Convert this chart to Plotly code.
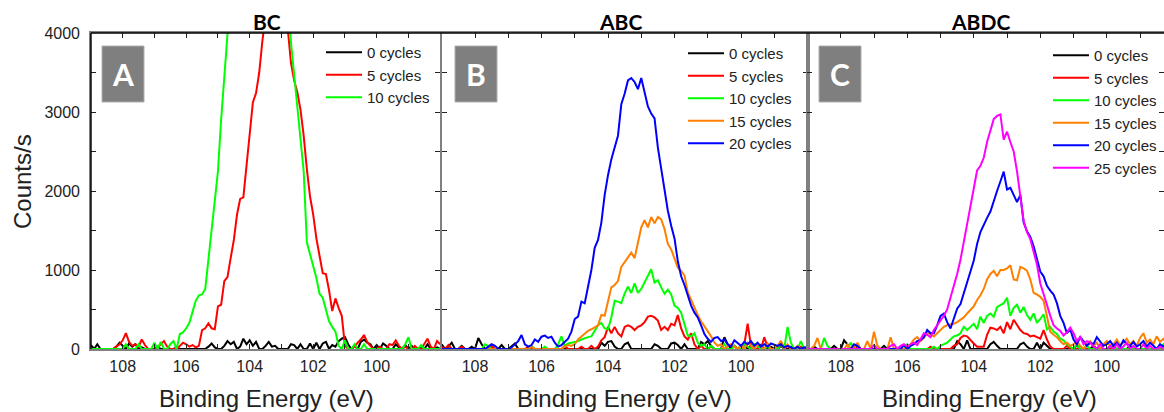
import numpy as np
import plotly.graph_objects as go

W, H = 1164, 412

# Binding-energy sampling shared by every spectrum (eV, 0.1 eV steps, high -> low)
energy = np.round(np.linspace(109.0, 98.0, 111), 1)

# ---------------- BC ----------------
bc_0 = [50, 0, 60, 0, 0, 0, 0, 0, 30, 80,
        40, 0, 70, 30, 60, 0, 20, 0, 0, 0,
        0, 30, 0, 0, 0, 0, 0, 20, 0, 0,
        0, 0, 0, 0, 0, 0, 0, 30, 70, 20,
        0, 0, 40, 100, 60, 90, 0, 30, 130, 60,
        110, 40, 90, 0, 0, 40, 90, 30, 40, 0,
        0, 0, 0, 60, 50, 0, 60, 0, 0, 70,
        0, 80, 0, 70, 90, 0, 50, 30, 100, 130,
        150, 60, 0, 40, 0, 90, 120, 80, 60, 0,
        50, 0, 70, 40, 0, 0, 60, 20, 0, 50,
        0, 40, 0, 0, 30, 0, 60, 0, 0, 20,
        0]
bc_5 = [0, 0, 0, 0, 0, 0, 0, 0, 30, 60,
        110, 200, 90, 40, 60, 30, 120, 50, 0, 0,
        0, 20, 60, 100, 30, 0, 0, 0, 40, 80,
        60, 30, 50, 20, 40, 240, 262, 325, 262, 250,
        540, 560, 860, 910, 1150, 1380, 1700, 1900, 1920, 2300,
        2720, 3120, 3240, 3500, 3900, 4300, 4700, 5000, 5200, 5200,
        4900, 4500, 4050, 3620, 3400, 3250, 3030, 2700, 2280, 1930,
        1700, 1400, 1180, 960, 950, 740, 480, 640, 520, 420,
        40, 0, 0, 30, 80, 120, 177, 90, 40, 0,
        0, 30, 0, 0, 60, 50, 110, 40, 0, 30,
        0, 0, 40, 0, 0, 60, 130, 30, 0, 100,
        60]
bc_10 = [0, 0, 0, 0, 0, 0, 0, 0, 0, 0,
         0, 60, 0, 0, 0, 60, 0, 0, 0, 0,
         80, 0, 90, 0, 0, 60, 100, 0, 190, 210,
         262, 330, 470, 610, 680, 690, 760, 1150, 1550, 1850,
         2250, 2900, 3600, 4100, 4700, 5200, 5600, 6000, 6300, 6500,
         6700, 6800, 6900, 7000, 7000, 6900, 6800, 6700, 6500, 6300,
         6000, 5200, 4400, 3880, 3450, 3080, 2650, 2250, 1350, 1180,
         1050, 900, 700, 650, 480, 350, 280, 220, 40, 0,
         110, 0, 0, 60, 0, 0, 60, 0, 0, 0,
         0, 0, 0, 0, 0, 0, 0, 0, 0, 60,
         150, 0, 0, 0, 50, 0, 0, 0, 0, 0,
         0]

# ---------------- ABC ----------------
abc_0 = [60, 0, 30, 80, 0, 0, 40, 0, 0, 30,
         0, 140, 60, 0, 0, 30, 0, 0, 50, 0,
         0, 40, 70, 0, 0, 0, 0, 30, 0, 0,
         0, 0, 0, 0, 0, 0, 0, 0, 0, 0,
         0, 0, 0, 0, 0, 0, 0, 0, 80, 40,
         90, 100, 30, 0, 0, 60, 80, 0, 0, 0,
         0, 0, 0, 0, 60, 40, 0, 0, 0, 70,
         80, 50, 0, 60, 0, 0, 0, 0, 90, 60,
         100, 40, 0, 0, 0, 150, 60, 0, 40, 0,
         0, 60, 0, 40, 0, 0, 50, 0, 0, 30,
         0, 0, 40, 0, 0, 30, 0, 0, 20, 0,
         0]
abc_5 = [20, 0, 50, 0, 0, 0, 30, 0, 0, 0,
         0, 0, 0, 0, 0, 40, 0, 0, 0, 0,
         0, 0, 0, 0, 0, 0, 30, 0, 0, 0,
         0, 0, 0, 0, 0, 0, 0, 40, 0, 0,
         0, 0, 30, 0, 0, 40, 0, 30, 110, 150,
         280, 200, 280, 200, 160, 280, 300, 280, 240, 280,
         300, 340, 410, 420, 400, 360, 240, 280, 240, 320,
         300, 430, 260, 160, 120, 200, 60, 0, 40, 0,
         0, 30, 0, 0, 0, 0, 0, 0, 40, 0,
         0, 60, 320, 40, 0, 0, 0, 150, 20, 0,
         0, 0, 100, 0, 40, 0, 0, 0, 30, 0,
         0]
abc_10 = [0, 0, 0, 0, 0, 0, 0, 0, 0, 0,
          0, 0, 0, 60, 40, 0, 0, 0, 0, 0,
          0, 0, 0, 0, 0, 0, 0, 40, 0, 0,
          0, 30, 0, 0, 0, 60, 160, 40, 70, 80,
          90, 100, 120, 140, 150, 160, 230, 300, 330, 260,
          250, 400, 610, 600, 580, 700, 790, 710, 830, 710,
          760, 840, 910, 1010, 840, 870, 780, 700, 750, 690,
          550, 520, 460, 300, 170, 160, 200, 80, 40, 60,
          0, 40, 0, 0, 0, 60, 0, 0, 40, 0,
          0, 60, 30, 0, 60, 40, 0, 0, 30, 0,
          0, 0, 60, 0, 280, 80, 0, 0, 100, 0,
          40]
abc_15 = [0, 0, 0, 0, 0, 0, 0, 0, 0, 0,
          0, 0, 0, 0, 0, 0, 0, 0, 0, 0,
          0, 0, 0, 0, 0, 0, 0, 30, 0, 0,
          0, 0, 0, 0, 0, 0, 0, 30, 50, 40,
          60, 120, 160, 190, 230, 250, 270, 300, 430, 420,
          600, 780, 810, 860, 1040, 1100, 1150, 1220, 1150, 1370,
          1540, 1630, 1540, 1670, 1590, 1670, 1640, 1520, 1330, 1260,
          1150, 1030, 990, 930, 720, 620, 520, 430, 350, 290,
          230, 160, 80, 40, 60, 0, 40, 60, 30, 0,
          50, 0, 80, 40, 0, 60, 30, 0, 70, 0,
          0, 40, 100, 0, 60, 0, 0, 40, 0, 0,
          0]
abc_20 = [0, 0, 0, 0, 0, 0, 0, 0, 0, 0,
          0, 0, 0, 0, 30, 60, 40, 0, 0, 0,
          0, 20, 60, 100, 177, 60, 30, 50, 120, 90,
          156, 170, 140, 156, 80, 30, 50, 90, 130, 220,
          380, 410, 600, 580, 780, 1000, 1280, 1380, 1600, 1950,
          2200, 2400, 2550, 2700, 3100, 3230, 3400, 3430, 3380, 3290,
          3430, 3250, 3070, 2980, 2920, 2550, 2300, 2030, 1750, 1560,
          1400, 1110, 920, 810, 680, 550, 460, 400, 300, 190,
          130, 90, 140, 150, 100, 120, 60, 30, 110, 80,
          40, 90, 60, 100, 40, 80, 30, 60, 30, 70,
          50, 40, 60, 20, 40, 20, 0, 30, 0, 20,
          10]

# ---------------- ABDC ----------------
abdc_0 = [0, 0, 30, 0, 0, 0, 0, 0, 40, 0,
          0, 110, 60, 0, 0, 40, 0, 0, 0, 0,
          0, 0, 0, 40, 0, 0, 0, 0, 0, 0,
          0, 0, 0, 0, 0, 0, 0, 0, 0, 0,
          0, 0, 0, 0, 0, 100, 60, 0, 110, 0,
          0, 0, 0, 0, 0, 60, 90, 40, 0, 0,
          0, 0, 0, 0, 60, 80, 30, 0, 0, 80,
          0, 80, 40, 0, 0, 0, 0, 0, 0, 0,
          0, 50, 0, 0, 0, 0, 40, 0, 0, 0,
          0, 0, 30, 0, 0, 0, 0, 40, 0, 0,
          0, 0, 0, 0, 0, 0, 0, 0, 0, 0,
          0]
abdc_5 = [0, 0, 0, 0, 0, 0, 0, 0, 0, 0,
          0, 0, 0, 0, 30, 0, 0, 0, 0, 0,
          0, 0, 0, 0, 0, 0, 0, 0, 0, 0,
          0, 0, 0, 0, 0, 0, 0, 30, 0, 0,
          0, 0, 0, 0, 40, 60, 140, 170, 160, 110,
          70, 30, 30, 30, 180, 270, 260, 240, 280, 200,
          340, 250, 370, 300, 240, 200, 190, 160, 170, 150,
          130, 240, 120, 30, 0, 0, 0, 0, 40, 0,
          0, 0, 0, 0, 0, 0, 0, 0, 0, 0,
          0, 0, 0, 0, 0, 0, 0, 0, 0, 0,
          0, 0, 0, 0, 0, 0, 0, 0, 0, 0,
          0]
abdc_10 = [0, 0, 0, 0, 0, 140, 40, 0, 0, 0,
           0, 0, 0, 80, 0, 0, 0, 0, 0, 0,
           0, 0, 0, 0, 0, 0, 0, 0, 0, 0,
           60, 0, 0, 0, 0, 0, 0, 0, 30, 0,
           40, 60, 80, 120, 160, 170, 200, 280, 240, 280,
           320, 250, 410, 330, 420, 450, 410, 530, 560, 580,
           650, 420, 520, 560, 460, 530, 430, 370, 450, 330,
           380, 440, 250, 280, 220, 190, 130, 110, 60, 30,
           0, 60, 0, 0, 40, 0, 0, 0, 0, 0,
           0, 40, 0, 0, 30, 0, 0, 0, 0, 0,
           0, 0, 0, 0, 0, 0, 0, 60, 0, 0,
           0]
abdc_15 = [0, 0, 40, 140, 0, 0, 0, 0, 0, 0,
           0, 0, 60, 0, 0, 80, 0, 0, 100, 0,
           220, 40, 0, 0, 0, 150, 0, 0, 0, 0,
           0, 60, 120, 150, 100, 140, 200, 190, 160, 200,
           240, 280, 300, 310, 320, 340, 370, 400, 450, 500,
           540, 620, 680, 760, 880, 950, 990, 920, 1000, 1000,
           1020, 1060, 880, 870, 1040, 1020, 990, 880, 710, 690,
           660, 610, 400, 220, 180, 150, 100, 60, 80, 40,
           60, 100, 40, 0, 60, 100, 40, 80, 0, 60,
           100, 40, 60, 120, 50, 80, 130, 60, 100, 40,
           140, 200, 80, 120, 60, 160, 90, 130, 60, 100,
           80]
abdc_20 = [0, 0, 0, 0, 0, 0, 0, 0, 0, 0,
           0, 0, 0, 0, 60, 40, 0, 0, 0, 0,
           0, 0, 0, 0, 0, 0, 0, 0, 0, 50,
           0, 40, 60, 100, 114, 150, 240, 200, 200, 300,
           420, 450, 340, 260, 400, 510, 570, 700, 820, 980,
           1120, 1330, 1480, 1580, 1660, 1740, 1880, 2000, 2120, 2245,
           2020, 2040, 1950, 1860, 1950, 1600, 1490, 1420, 1300, 1150,
           980, 920, 800, 740, 690, 580, 420, 330, 200, 250,
           120, 60, 150, 100, 40, 80, 60, 150, 100, 40,
           60, 100, 40, 80, 30, 110, 60, 40, 90, 30,
           60, 100, 30, 80, 40, 0, 60, 30, 50, 0,
           0]
abdc_25 = [0, 0, 0, 0, 0, 0, 0, 0, 0, 0,
           0, 0, 0, 0, 0, 0, 0, 0, 0, 0,
           50, 0, 0, 0, 0, 40, 60, 0, 40, 60,
           30, 60, 80, 50, 120, 200, 180, 150, 240, 300,
           360, 420, 500, 640, 780, 950, 1130, 1360, 1580, 1820,
           2060, 2260, 2320, 2420, 2620, 2780, 2910, 2950, 2970, 2650,
           2750, 2620, 2500, 2250, 1930, 1620, 1480, 1390, 1230, 1070,
           830, 680, 560, 420, 300, 260, 230, 170, 210, 270,
           200, 100, 150, 60, 100, 80, 30, 0, 60, 0,
           0, 40, 0, 60, 0, 30, 80, 0, 40, 0,
           0, 60, 0, 40, 0, 0, 30, 0, 0, 0,
           0]

cycle_labels = ["0 cycles", "5 cycles", "10 cycles", "15 cycles", "20 cycles", "25 cycles"]
cycle_colors = ["#000000", "#ff0000", "#00ff00", "#ff8000", "#0000ff", "#ff00ff"]
panel_titles = ["BC", "ABC", "ABDC"]
panel_letters = ["A", "B", "C"]
x_tick_values = [108, 106, 104, 102, 100]
y_tick_values = [0, 1000, 2000, 3000, 4000]

panels = [
    dict(series=[bc_0, bc_5, bc_10], xr=[109, 98]),
    dict(series=[abc_0, abc_5, abc_10, abc_15, abc_20], xr=[109, 98]),
    dict(series=[abdc_0, abdc_5, abdc_10, abdc_15, abdc_20, abdc_25], xr=[109, 98.28]),
]


def px(x):
    return x / W


def py(y):
    return 1 - y / H


# panel frames in pixels
x_domains = [(90.95, 440.2), (441.75, 807.5), (807.5, 1164)]
frame_top, frame_bottom = 33, 349
y_domain = [py(frame_bottom), py(frame_top)]

fig = go.Figure()
font_main = "Liberation Sans, Arial, sans-serif"
font_bold = "Lato, Open Sans, sans-serif"
gray = "#808080"
tick_color = "#222"

legend_pos = [(321, 36), (683, 37), (1048, 39)]

for i, p in enumerate(panels):
    sfx = "" if i == 0 else str(i + 1)
    for j, vals in enumerate(p["series"]):
        fig.add_trace(go.Scatter(
            x=energy, y=vals, mode="lines",
            name=cycle_labels[j],
            line=dict(color=cycle_colors[j], width=2),
            xaxis="x" + sfx, yaxis="y" + sfx,
            legend="legend" + sfx,
        ))

    d0, d1 = x_domains[i]
    fig.layout["xaxis" + sfx] = dict(
        domain=[px(d0), px(d1)], range=p["xr"], anchor="y" + sfx,
        showgrid=False, zeroline=False, fixedrange=True, automargin=False,
        tickmode="array", tickvals=x_tick_values,
        ticks="inside", ticklen=5, tickcolor=tick_color,
        minor=dict(tickmode="linear", tick0=100, dtick=1, ticks="inside",
                   ticklen=5, tickcolor=tick_color),
        ticklabelstandoff=2,
        tickfont=dict(family=font_main, size=16, color="#222"),
        showline=True, linecolor=gray, linewidth=1.5, mirror="ticks",
    )
    fig.layout["yaxis" + sfx] = dict(
        domain=y_domain, range=[0, 4000], anchor="x" + sfx,
        showgrid=False, zeroline=False, fixedrange=True, automargin=False,
        tickmode="array", tickvals=y_tick_values,
        ticks="inside", ticklen=5, tickcolor=tick_color,
        minor=dict(dtick=500, ticks="inside", ticklen=5, tickcolor=tick_color),
        showticklabels=(i == 0), ticklabelstandoff=6,
        tickfont=dict(family=font_main, size=16, color="#222"),
        showline=True, linecolor=gray, linewidth=1.5, mirror="ticks",
    )

    lx, ly = legend_pos[i]
    fig.layout["legend" + sfx] = dict(
        x=px(lx), y=py(ly), xanchor="left", yanchor="top",
        bgcolor="rgba(0,0,0,0)", borderwidth=0, itemwidth=36,
        font=dict(family=font_main, size=15, color="#222"),
        tracegroupgap=0,
    )

    # panel title
    cx = [267, 620, 980][i]
    fig.add_annotation(x=px(cx), y=py(22), xref="paper", yref="paper",
                       text="<b>%s</b>" % panel_titles[i], showarrow=False,
                       font=dict(family=font_bold, size=21, color="#000"),
                       xanchor="center", yanchor="middle")
    # x-axis title
    tx = [266, 624, 989][i]
    fig.add_annotation(x=px(tx), y=py(398), xref="paper", yref="paper",
                       text="Binding Energy (eV)", showarrow=False,
                       font=dict(family=font_main, size=24, color="#222"),
                       xanchor="center", yanchor="middle")
    # gray letter badge
    bx0 = [102, 455, 819][i]
    fig.add_shape(type="rect", xref="paper", yref="paper",
                  x0=px(bx0), x1=px(bx0 + 42), y0=py(102), y1=py(46),
                  fillcolor="#7f7f7f", line=dict(color="#b0b0b0", width=1), layer="above")
    fig.add_annotation(x=px(bx0 + 21), y=py(74), xref="paper", yref="paper",
                       text="<b>%s</b>" % panel_letters[i], showarrow=False,
                       font=dict(family=font_bold, size=30, color="#fff"),
                       xanchor="center", yanchor="middle")

# black outer frame: top edge across all panels, left edge of the first panel
fig.add_shape(type="line", xref="paper", yref="paper",
              x0=px(x_domains[0][0]), x1=1, y0=py(frame_top), y1=py(frame_top),
              line=dict(color="#000", width=1.5), layer="above")
fig.add_shape(type="line", xref="paper", yref="paper",
              x0=px(x_domains[0][0]), x1=px(x_domains[0][0]),
              y0=py(frame_bottom), y1=py(frame_top),
              line=dict(color="#000", width=1.5), layer="above")

fig.add_annotation(x=px(22), y=py(182), xref="paper", yref="paper",
                   text="Counts/s", textangle=-90, showarrow=False,
                   font=dict(family=font_main, size=24, color="#222"),
                   xanchor="center", yanchor="middle")

fig.update_layout(
    width=W, height=H, margin=dict(l=0, r=0, t=0, b=0, pad=0),
    paper_bgcolor="#fff", plot_bgcolor="#fff",
    showlegend=True,
)

fig.write_html("out.html")
